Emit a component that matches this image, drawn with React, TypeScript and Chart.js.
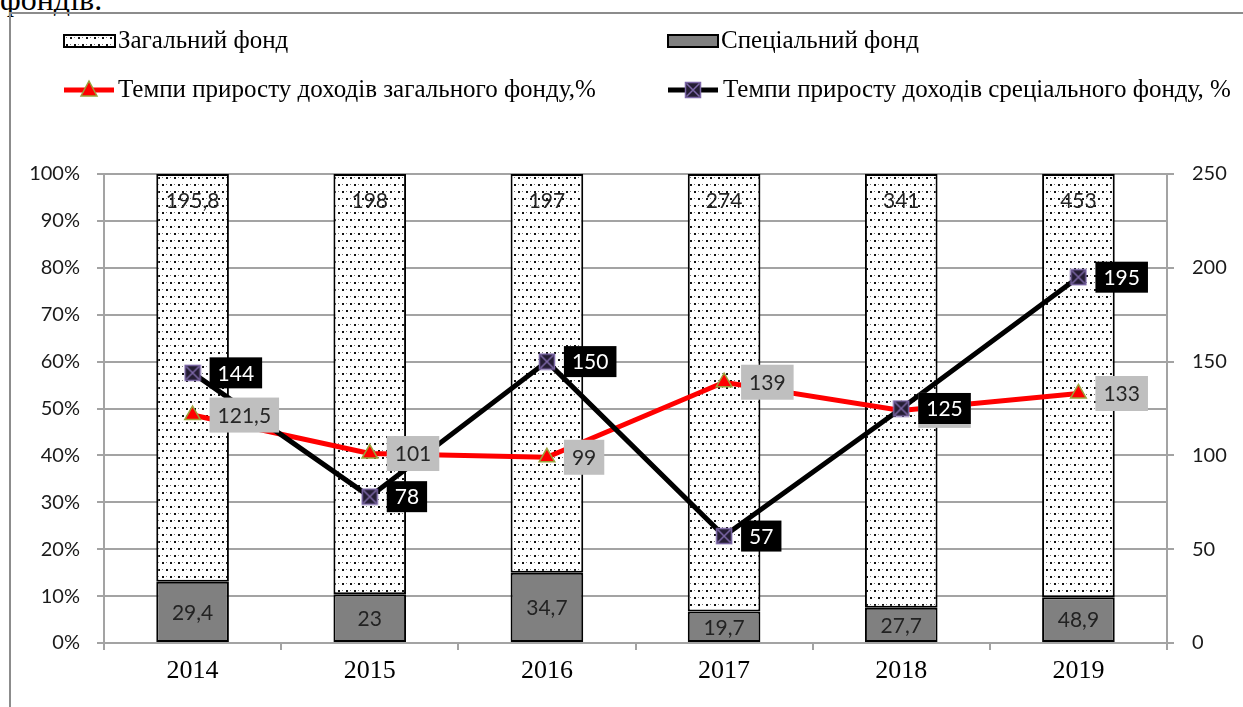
import React, { useEffect, useRef } from "react";
import { Chart, registerables } from "chart.js";

Chart.register(...registerables);

const years = ["2014", "2015", "2016", "2017", "2018", "2019"];
const generalFund = [195.8, 198, 197, 274, 341, 453];
const specialFund = [29.4, 23, 34.7, 19.7, 27.7, 48.9];
const generalGrowth = [121.5, 101, 99, 139, 124, 133];
const specialGrowth = [144, 78, 150, 57, 125, 195];
const leftTicks = [0, 10, 20, 30, 40, 50, 60, 70, 80, 90, 100];
const rightTicks = [0, 50, 100, 150, 200, 250];

const legendGeneral = "Загальний фонд";
const legendSpecial = "Спеціальний фонд";
const legendGeneralGrowth = "Темпи приросту доходів загального фонду,%";
const legendSpecialGrowth = "Темпи приросту доходів срецiального фонду, %";

const GRID = "#a3a3a3";
const SERIF = "'Liberation Serif', 'Times New Roman', serif";
const SANS = "Lato, 'Noto Sans', sans-serif";

const fmt = (v: number) => String(v).replace(".", ",");

function makeDotPattern(): CanvasPattern | string {
  const c = document.createElement("canvas");
  c.width = 8;
  c.height = 14;
  const g = c.getContext("2d");
  if (!g) return "#fff";
  g.fillStyle = "#fff";
  g.fillRect(0, 0, 8, 14);
  g.fillStyle = "#111";
  g.fillRect(2, 2, 2, 2);
  g.fillRect(6, 9, 2, 2);
  g.fillStyle = "#777";
  g.fillRect(2, 9, 1, 1);
  g.fillRect(6, 2, 1, 1);
  const p = g.createPattern(c, "repeat");
  return p || "#fff";
}

function makeCrossMarker(): HTMLCanvasElement {
  const c = document.createElement("canvas");
  c.width = 18;
  c.height = 18;
  const g = c.getContext("2d")!;
  g.fillStyle = "#241d33";
  g.fillRect(1, 1, 16, 16);
  g.strokeStyle = "#7d68a8";
  g.lineWidth = 1.5;
  g.strokeRect(1.5, 1.5, 15, 15);
  g.beginPath();
  g.moveTo(2.5, 2.5);
  g.lineTo(15.5, 15.5);
  g.moveTo(15.5, 2.5);
  g.lineTo(2.5, 15.5);
  g.stroke();
  return c;
}

export default function App() {
  const ref = useRef<HTMLCanvasElement | null>(null);

  useEffect(() => {
    const canvas = ref.current;
    if (!canvas) return;
    const dots = makeDotPattern();
    const cross = makeCrossMarker();

    const totals = generalFund.map((g, i) => g + specialFund[i]);
    const specialPct = specialFund.map((s, i) => (s / totals[i]) * 100);
    const generalPct = generalFund.map((g, i) => (g / totals[i]) * 100);

    const labelsPlugin = {
      id: "labelsPlugin",
      afterDatasetsDraw(chart: any) {
        const ctx = chart.ctx as CanvasRenderingContext2D;
        ctx.save();
        ctx.font = `21px ${SANS}`;
        ctx.textBaseline = "middle";
        const specMeta = chart.getDatasetMeta(0);
        const genMeta = chart.getDatasetMeta(1);
        ctx.textAlign = "center";
        ctx.fillStyle = "#222";
        genMeta.data.forEach((el: any, i: number) => {
          ctx.fillText(fmt(generalFund[i]), el.x, el.y + 27);
        });
        specMeta.data.forEach((el: any, i: number) => {
          ctx.fillText(fmt(specialFund[i]), el.x, (el.y + el.base) / 2 + 1);
        });
        ctx.textAlign = "left";
        const drawBoxes = (idx: number, values: number[], bg: string, fg: string, h: number) => {
          const meta = chart.getDatasetMeta(idx);
          meta.data.forEach((el: any, i: number) => {
            const t = fmt(values[i]);
            const w = ctx.measureText(t).width + 16;
            const x0 = el.x + 17;
            ctx.fillStyle = bg;
            ctx.fillRect(x0, el.y - h / 2, w, h);
            ctx.fillStyle = fg;
            ctx.fillText(t, x0 + 8, el.y + 1);
          });
        };
        drawBoxes(2, generalGrowth, "#bfbfbf", "#262626", 35);
        drawBoxes(3, specialGrowth, "#000", "#fff", 31);
        ctx.restore();
      },
      afterDraw(chart: any) {
        const ctx = chart.ctx as CanvasRenderingContext2D;
        ctx.save();
        ctx.font = `25px ${SERIF}`;
        ctx.textBaseline = "middle";
        ctx.textAlign = "left";
        ctx.fillStyle = dots as any;
        ctx.fillRect(64, 35, 51, 12);
        ctx.strokeStyle = "#000";
        ctx.lineWidth = 2;
        ctx.strokeRect(64, 35, 51, 12);
        ctx.fillStyle = "#000";
        ctx.fillText(legendGeneral, 118, 41);

        ctx.fillStyle = "#808080";
        ctx.fillRect(668, 35, 50, 12);
        ctx.strokeRect(668, 35, 50, 12);
        ctx.fillStyle = "#000";
        ctx.fillText(legendSpecial, 721, 41);

        ctx.strokeStyle = "#ff0000";
        ctx.lineWidth = 5;
        ctx.beginPath();
        ctx.moveTo(64, 90);
        ctx.lineTo(114, 90);
        ctx.stroke();
        ctx.fillStyle = "#ff0000";
        ctx.strokeStyle = "#9aa13a";
        ctx.lineWidth = 1.5;
        ctx.beginPath();
        ctx.moveTo(89, 81);
        ctx.lineTo(97, 96);
        ctx.lineTo(81, 96);
        ctx.closePath();
        ctx.fill();
        ctx.stroke();
        ctx.fillStyle = "#000";
        ctx.fillText(legendGeneralGrowth, 118, 90);

        ctx.strokeStyle = "#000";
        ctx.lineWidth = 5;
        ctx.beginPath();
        ctx.moveTo(668, 90);
        ctx.lineTo(718, 90);
        ctx.stroke();
        ctx.drawImage(cross, 684, 81);
        ctx.fillStyle = "#000";
        ctx.fillText(legendSpecialGrowth, 723, 90);
        ctx.restore();
      },
    };

    const chart = new Chart(canvas, {
      type: "bar",
      data: {
        labels: years,
        datasets: [
          {
            type: "bar",
            label: legendSpecial,
            data: specialPct,
            backgroundColor: "#808080",
            borderColor: "#000",
            borderWidth: 2,
            borderSkipped: false,
            barPercentage: 0.41,
            categoryPercentage: 1,
            yAxisID: "y",
            order: 2,
          },
          {
            type: "bar",
            label: legendGeneral,
            data: generalPct,
            backgroundColor: dots as any,
            borderColor: "#000",
            borderWidth: 2,
            borderSkipped: false,
            barPercentage: 0.41,
            categoryPercentage: 1,
            yAxisID: "y",
            order: 3,
          },
          {
            type: "line",
            label: legendGeneralGrowth,
            data: generalGrowth,
            borderColor: "#ff0000",
            borderWidth: 5,
            pointStyle: "triangle",
            pointRadius: 9,
            pointBackgroundColor: "#ff0000",
            pointBorderColor: "#9aa13a",
            pointBorderWidth: 1.5,
            tension: 0,
            yAxisID: "y1",
            order: 1,
          },
          {
            type: "line",
            label: legendSpecialGrowth,
            data: specialGrowth,
            borderColor: "#000",
            borderWidth: 5,
            pointStyle: cross as any,
            pointRadius: 9,
            tension: 0,
            yAxisID: "y1",
            order: 0,
          },
        ],
      } as any,
      options: {
        responsive: false,
        animation: false,
        layout: { padding: { top: 174, left: 0, right: 0, bottom: 0 } },
        plugins: {
          legend: { display: false },
          tooltip: { enabled: false },
          title: { display: false },
        },
        scales: {
          x: {
            stacked: true,
            offset: true,
            grid: {
              display: true,
              drawOnChartArea: false,
              drawTicks: true,
              tickLength: 7,
              color: GRID,
              lineWidth: 2,
              offset: true,
            },
            border: { display: true, color: GRID, width: 2 },
            ticks: {
              color: "#000",
              font: { family: SERIF, size: 26 },
              padding: 6,
            },
            afterFit: (s: any) => {
              s.height = 64;
            },
          },
          y: {
            stacked: true,
            position: "left",
            min: leftTicks[0],
            max: leftTicks[leftTicks.length - 1],
            afterBuildTicks: (s: any) => {
              s.ticks = leftTicks.map((v) => ({ value: v }));
            },
            ticks: {
              callback: (v: any) => `${v}%`,
              color: "#1a1a1a",
              font: { family: SANS, size: 20 },
              padding: 17,
            },
            grid: { color: GRID, lineWidth: 2, tickLength: 7 },
            border: { display: true, color: GRID, width: 2 },
            afterFit: (s: any) => {
              s.width = 104;
            },
          },
          y1: {
            position: "right",
            min: rightTicks[0],
            max: rightTicks[rightTicks.length - 1],
            afterBuildTicks: (s: any) => {
              s.ticks = rightTicks.map((v) => ({ value: v }));
            },
            ticks: {
              color: "#1a1a1a",
              font: { family: SANS, size: 20 },
              padding: 18,
            },
            grid: { drawOnChartArea: false, color: GRID, lineWidth: 2, tickLength: 7 },
            border: { display: true, color: GRID, width: 2 },
            afterFit: (s: any) => {
              s.width = 76;
            },
          },
        },
      } as any,
      plugins: [labelsPlugin],
    });

    return () => chart.destroy();
  }, []);

  return (
    <div
      style={{
        position: "absolute",
        left: 0,
        top: 0,
        width: 1243,
        height: 707,
        overflow: "hidden",
        background: "#fff",
      }}
    >
      <div
        style={{
          position: "absolute",
          left: 0,
          top: -19,
          fontFamily: SERIF,
          fontSize: 32,
          lineHeight: "36px",
          color: "#000",
          whiteSpace: "nowrap",
        }}
      >
        фондів.
      </div>
      <div
        style={{
          position: "absolute",
          left: 9,
          top: 12,
          width: 1400,
          height: 900,
          borderLeft: "2px solid #8c8c8c",
          borderTop: "2px solid #8c8c8c",
        }}
      />
      <canvas
        ref={ref}
        width={1243}
        height={707}
        style={{ position: "absolute", left: 0, top: 0, width: 1243, height: 707 }}
      />
    </div>
  );
}
